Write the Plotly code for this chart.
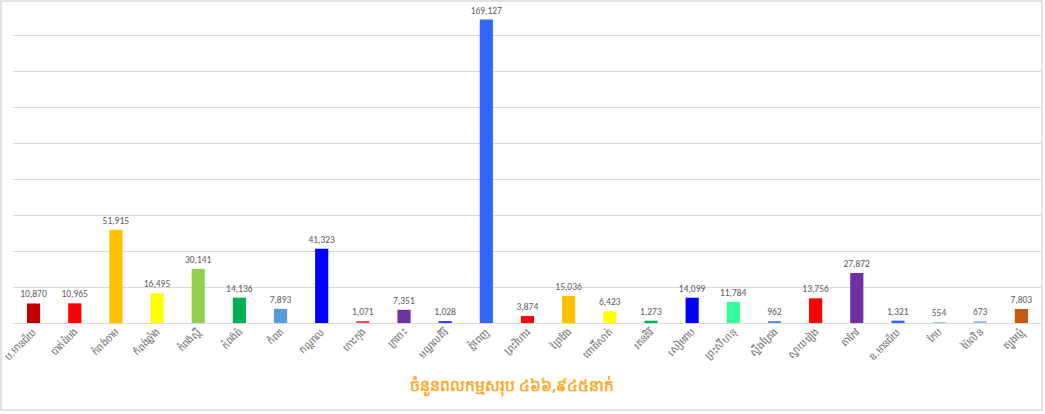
import plotly.graph_objects as go

provinces = ["ប.មានជ័យ", "បាត់ដំបង", "កំពង់ចាម", "កំពង់ឆ្នាំង", "កំពង់ស្ពឺ", "កំពង់ធំ", "កំពត",
             "កណ្ដាល", "កោះកុង", "ក្រចេះ", "មណ្ឌលគិរី", "ភ្នំពេញ", "ព្រះវិហារ", "ព្រៃវែង",
             "ពោធិ៍សាត់", "រតនគិរី", "សៀមរាប", "ព្រះសីហនុ", "ស្ទឹងត្រែង", "ស្វាយរៀង", "តាកែវ",
             "ឧ.មានជ័យ", "កែប", "ប៉ៃលិន", "ត្បូងឃ្មុំ"]
workers = [10870, 10965, 51915, 16495, 30141, 14136, 7893, 41323, 1071, 7351, 1028, 169127,
           3874, 15036, 6423, 1273, 14099, 11784, 962, 13756, 27872, 1321, 554, 673, 7803]
colors = ["#C00000", "#FF0000", "#FFC000", "#FFFF00", "#92D050", "#00B050", "#5B9BD5",
          "#0000FF", "#FF4B4B", "#7030A0", "#3D3DFF", "#3366FF", "#FF0000", "#FFC000",
          "#FFFF00", "#00B050", "#0000FF", "#33FF99", "#5B9BD5", "#FF0000", "#7030A0",
          "#3366FF", "#9DC3E6", "#9DC3E6", "#C55A11"]
title_text = "ចំនួនពលកម្មសរុប ៤៦៦,៩៤៥នាក់"

W, H = 1045, 414
ml, mr, mt, mb = 13, 3, 0, 91

fig = go.Figure(go.Bar(
    x=provinces, y=workers,
    marker=dict(color=colors, line=dict(width=0)),
    text=[f"{v:,}" for v in workers], textposition="outside",
    constraintext="none",
    textfont=dict(size=9.5, color="#595959", family="Carlito, Liberation Sans, sans-serif"),
    cliponaxis=False,
))

pw = W - ml - mr
ph = H - mt - mb
def px(x):
    return (x - ml) / pw
def py(y):
    return (H - mb - y) / ph

fig.update_layout(
    width=W, height=H,
    margin=dict(l=ml, r=mr, t=mt, b=mb, autoexpand=False),
    paper_bgcolor="white", plot_bgcolor="white",
    bargap=0.68, showlegend=False,
    xaxis=dict(tickangle=-45, tickfont=dict(size=10, color="#666666"),
               showline=False, ticks="", showgrid=False, automargin=False),
    yaxis=dict(range=[0, 180000], dtick=20000, showticklabels=False, ticks="",
               gridcolor="#D9D9D9", gridwidth=1, zeroline=True, zerolinecolor="#D9D9D9",
               zerolinewidth=1, showline=False, automargin=False),
    annotations=[dict(text=f"<b>{title_text}</b>", x=px(512), y=py(385), xref="paper", yref="paper",
                      showarrow=False, font=dict(size=15.5, color="#FFA928"),
                      xanchor="center", yanchor="middle")],
    shapes=[dict(type="rect", xref="paper", yref="paper",
                 x0=px(1), x1=px(1042), y0=py(1), y1=py(410),
                 line=dict(color="#D9D9D9", width=1.5), layer="below")],
)

fig.write_html("out.html", config={"displayModeBar": False},
               post_script="document.body.style.margin='0';document.body.style.overflow='hidden';")
